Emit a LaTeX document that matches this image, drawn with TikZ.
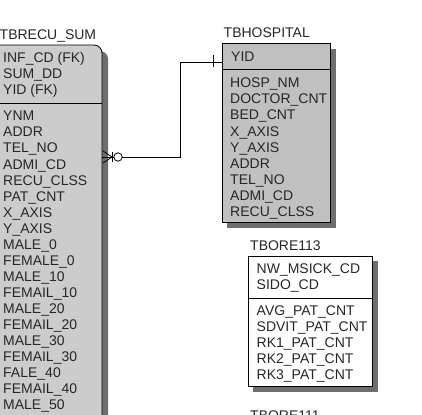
\documentclass[tikz,border=0pt]{standalone}
\usepackage{fontspec}
\setmainfont{Liberation Sans}
\definecolor{recufill}{RGB}{204,204,204}
\definecolor{hospfill}{RGB}{192,192,192}
\definecolor{shadowc}{RGB}{110,110,110}
\begin{document}
\begin{tikzpicture}[x=1pt,y=-1pt,
  txt/.style={inner sep=0pt,anchor=base west,font=\fontsize{14}{16}\selectfont,text=black!85},
  ent/.style={draw=black,line width=0.8pt},
  rel/.style={draw=black,line width=0.8pt}]
\useasboundingbox (0,0) rectangle (422,414);
% ---------- TBRECU_SUM ----------
\node[txt] (t1) at (-0.5,40) {TBRECU\_SUM};
\fill[shadowc,rounded corners=8] (-10,51) -- (108,51) -- (108,440) -- (-10,440) -- cycle;
\draw[ent,fill=recufill,rounded corners=8] (-10,45) -- (102,45) -- (102,440) -- (-10,440) -- cycle;
\draw[ent] (-10,103) -- (102,103);
\foreach \t [count=\i from 0] in {INF\_CD (FK),SUM\_DD,YID (FK)}
  \node[txt] (rk\i) at (3,63+16*\i) {\t};
\foreach \t [count=\i from 0] in {YNM,ADDR,TEL\_NO,ADMI\_CD,RECU\_CLSS,PAT\_CNT,X\_AXIS,Y\_AXIS,MALE\_0,FEMALE\_0,MALE\_10,FEMAIL\_10,MALE\_20,FEMAIL\_20,MALE\_30,FEMAIL\_30,FALE\_40,FEMAIL\_40,MALE\_50}
  \node[txt] (ra\i) at (3,121+16*\i) {\t};
% ---------- TBHOSPITAL ----------
\node[txt] (t2) at (223.5,38) {TBHOSPITAL};
\fill[shadowc] (227,49) rectangle (336,227.5);
\node[ent,fill=hospfill,minimum width=108pt,minimum height=178pt,anchor=north west,inner sep=0pt] (hosp) at (222,43.5) {};
\draw[ent] (222,69.5) -- (330,69.5);
\node[txt] (hk0) at (231,62) {YID};
\foreach \t [count=\i from 0] in {HOSP\_NM,DOCTOR\_CNT,BED\_CNT,X\_AXIS,Y\_AXIS,ADDR,TEL\_NO,ADMI\_CD,RECU\_CLSS}
  \node[txt] (ha\i) at (230,88+16*\i) {\t};
% ---------- TBORE113 ----------
\node[txt] (t3) at (250,250.5) {TBORE113};
\fill[shadowc] (253,261) rectangle (378,391.5);
\node[ent,fill=white,minimum width=124pt,minimum height=130pt,anchor=north west,inner sep=0pt] (ore) at (248,256) {};
\draw[ent] (248,298) -- (372,298);
\foreach \t [count=\i from 0] in {NW\_MSICK\_CD,SIDO\_CD}
  \node[txt] (ok\i) at (256.5,273+16*\i) {\t};
\foreach \t [count=\i from 0] in {AVG\_PAT\_CNT,SDVIT\_PAT\_CNT,RK1\_PAT\_CNT,RK2\_PAT\_CNT,RK3\_PAT\_CNT}
  \node[txt] (oa\i) at (256.5,315+16*\i) {\t};
% ---------- TBORE111 (title only, cut at the edge as in the reference) ----------
\node[txt] (t4) at (250,420) {TBORE111};
% ---------- relationship ----------
\coordinate (recuE) at (102,157);
\coordinate (hospW) at (222,62);
\coordinate (bend1) at (180,157);
\coordinate (bend2) at (180,62);
\draw[rel] (recuE) -- (bend1) -- (bend2) -- (hospW);
% one mark at hospital end
\draw[rel] (213,55.5) -- (213,67.5);
% zero-or-many at recu end
\draw[rel] (103,151) -- (112,157) -- (103,163);
\draw[rel] (112,152) -- (112,162);
\draw[rel,fill=white] (118,157) circle (4.2);
\draw[rel] (122.2,157) -- (bend1);
\end{tikzpicture}
\end{document}
